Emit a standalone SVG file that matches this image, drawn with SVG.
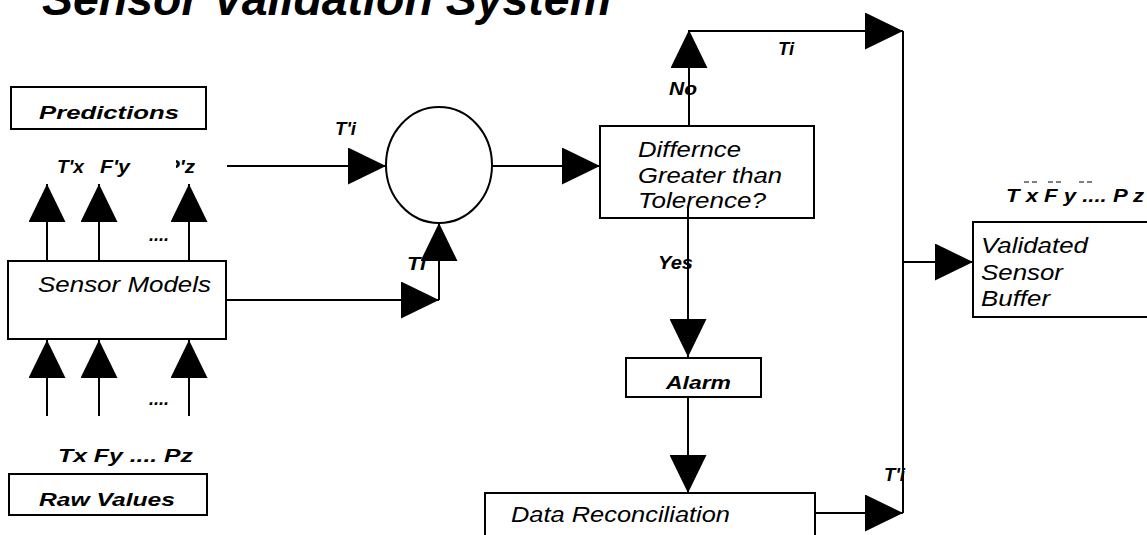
<svg xmlns="http://www.w3.org/2000/svg" width="1147" height="535" viewBox="0 0 1147 535">
<style>
.box{fill:#fff;stroke:#000;stroke-width:2}
.lbl{font-family:"Liberation Sans",Arial,sans-serif;font-weight:bold;font-style:italic;font-size:18px;fill:#000}
.txt{font-family:"Liberation Sans",Arial,sans-serif;font-style:italic;font-size:22px;fill:#000}
.ttl{font-family:"Liberation Sans",Arial,sans-serif;font-weight:bold;font-style:italic;font-size:46px;fill:#000}
.conn path{fill:none;stroke:#000;stroke-width:2}
.dash{stroke:#000;stroke-width:1}
</style>
<defs>
<marker id="ah" viewBox="0 0 38 37" markerWidth="38" markerHeight="37" refX="38" refY="18.5" orient="auto" markerUnits="userSpaceOnUse">
<path d="M0,0 L38,18.5 L0,37 Z" fill="#000"/>
</marker>
<clipPath id="pzclip"><rect x="176" y="140" width="40" height="40"/></clipPath>
</defs>
<rect width="1147" height="535" fill="#fff"/>
<text class="ttl" x="42" y="15" textLength="569" lengthAdjust="spacingAndGlyphs">Sensor Validation System</text>

<g id="predictions">
<rect class="box" x="11" y="87" width="195" height="42"/>
<text class="lbl" x="39" y="119" font-size="23" textLength="140" lengthAdjust="spacingAndGlyphs">Predictions</text>
</g>
<g id="pred-labels">
<text class="lbl" x="57" y="173" textLength="27" lengthAdjust="spacingAndGlyphs">T'x</text>
<text class="lbl" x="100" y="173" textLength="30" lengthAdjust="spacingAndGlyphs">F'y</text>
<text class="lbl" x="166" y="173" textLength="29" lengthAdjust="spacingAndGlyphs" clip-path="url(#pzclip)">P'z</text>
<text class="lbl" x="149" y="241">....</text>
</g>
<g id="sensor-models">
<rect class="box" x="8" y="261" width="218" height="78"/>
<text class="txt" x="38" y="292" textLength="173" lengthAdjust="spacingAndGlyphs">Sensor Models</text>
</g>
<g id="raw-labels">
<text class="lbl" x="149" y="405">....</text>
<text class="lbl" x="58" y="462" font-size="19" textLength="135" lengthAdjust="spacingAndGlyphs">Tx  Fy .... Pz</text>
</g>
<g id="raw-values">
<rect class="box" x="9" y="474" width="198" height="41"/>
<text class="lbl" x="39" y="506" font-size="22" textLength="136" lengthAdjust="spacingAndGlyphs">Raw Values</text>
</g>
<g id="comparator">
<ellipse class="box" cx="439" cy="165" rx="53" ry="58"/>
</g>
<g id="difference">
<rect class="box" x="600" y="126" width="214" height="92"/>
<text class="txt" x="638" y="157" textLength="103" lengthAdjust="spacingAndGlyphs">Differnce</text>
<text class="txt" x="638" y="183" textLength="144" lengthAdjust="spacingAndGlyphs">Greater than</text>
<text class="txt" x="638" y="208" textLength="128" lengthAdjust="spacingAndGlyphs">Tolerence?</text>
</g>
<g id="alarm">
<rect class="box" x="626" y="358" width="135" height="39"/>
<text class="lbl" x="666" y="389" font-size="20" textLength="65" lengthAdjust="spacingAndGlyphs">Alarm</text>
</g>
<g id="data-reconciliation">
<rect class="box" x="485" y="493" width="330" height="60"/>
<text class="txt" x="511" y="522" textLength="219" lengthAdjust="spacingAndGlyphs">Data Reconciliation</text>
</g>
<g id="validated-buffer">
<rect class="box" x="973" y="222" width="200" height="95"/>
<text class="txt" x="981" y="253" textLength="107" lengthAdjust="spacingAndGlyphs">Validated</text>
<text class="txt" x="981" y="280" textLength="82" lengthAdjust="spacingAndGlyphs">Sensor</text>
<text class="txt" x="981" y="306" textLength="69" lengthAdjust="spacingAndGlyphs">Buffer</text>
</g>
<g id="buffer-labels">
<path class="dash" d="M1024,182h5M1032,182h5M1048,182h5M1056,182h5M1079,182h5M1087,182h5"/>
<text class="lbl" x="1006" y="202" textLength="138" lengthAdjust="spacingAndGlyphs">T x  F y .... P z</text>
</g>
<g id="edge-labels">
<text class="lbl" x="335" y="135" textLength="21" lengthAdjust="spacingAndGlyphs">T'i</text>
<text class="lbl" x="407" y="270" textLength="19" lengthAdjust="spacingAndGlyphs">Ti</text>
<text class="lbl" x="669" y="95" textLength="28" lengthAdjust="spacingAndGlyphs">No</text>
<text class="lbl" x="778" y="55" textLength="16" lengthAdjust="spacingAndGlyphs">Ti</text>
<text class="lbl" x="658" y="269" textLength="35" lengthAdjust="spacingAndGlyphs">Yes</text>
<text class="lbl" x="884" y="481" textLength="21" lengthAdjust="spacingAndGlyphs">T'i</text>
</g>
<g id="connectors" class="conn">
<path d="M47,261 V184" marker-end="url(#ah)"/>
<path d="M99,261 V184" marker-end="url(#ah)"/>
<path d="M189,261 V184" marker-end="url(#ah)"/>
<path d="M47,416 V340" marker-end="url(#ah)"/>
<path d="M99,416 V340" marker-end="url(#ah)"/>
<path d="M189,416 V340" marker-end="url(#ah)"/>
<path d="M227,166 H386" marker-end="url(#ah)"/>
<path d="M226,300 H439" marker-end="url(#ah)"/>
<path d="M439,300 V223" marker-end="url(#ah)"/>
<path d="M492,166 H600" marker-end="url(#ah)"/>
<path d="M689,126 V30" marker-end="url(#ah)"/>
<path d="M689,31 H903" marker-end="url(#ah)"/>
<path d="M903,31 V513"/>
<path d="M688,207 V357" marker-end="url(#ah)"/>
<path d="M688,397 V493" marker-end="url(#ah)"/>
<path d="M815,513 H903" marker-end="url(#ah)"/>
<path d="M903,262 H973" marker-end="url(#ah)"/>
</g>
</svg>
